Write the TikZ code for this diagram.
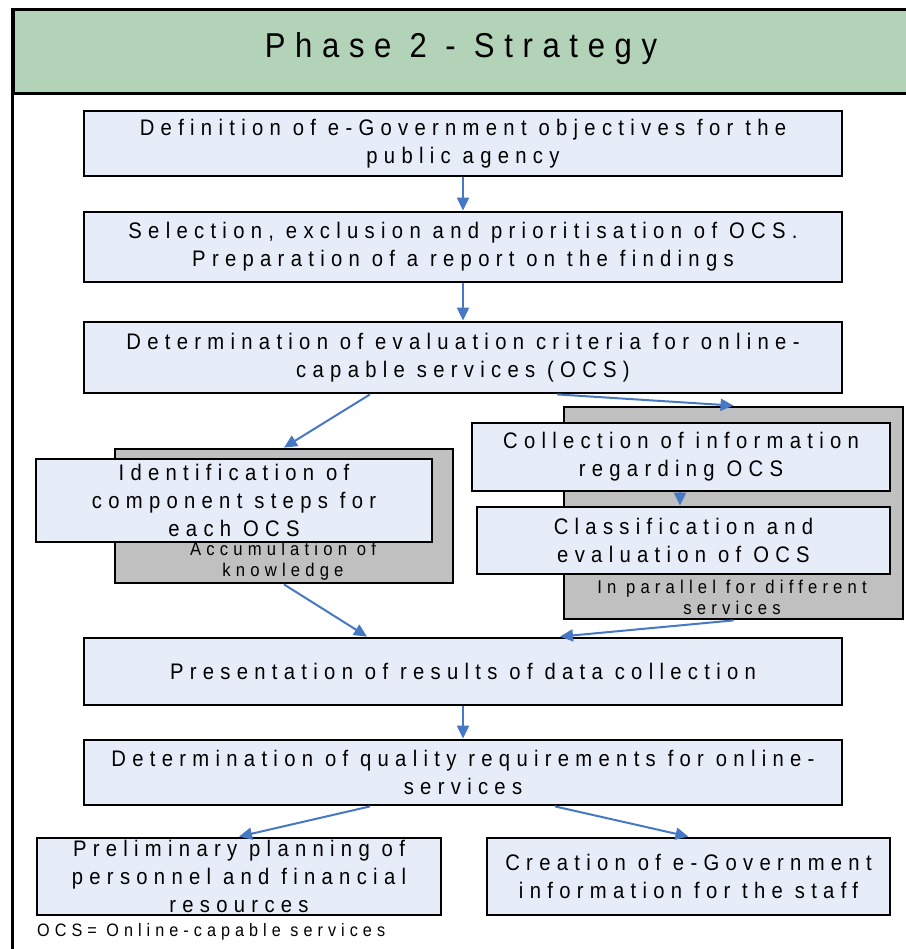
\documentclass[tikz,border=0pt]{standalone}
\usepackage{fontspec}
\setmainfont{Liberation Sans}[FakeStretch=0.9,LetterSpace=28]
\usetikzlibrary{arrows.meta}
\definecolor{hdrgreen}{HTML}{B3D3B8}
\definecolor{boxblue}{HTML}{E7EDF8}
\definecolor{graybox}{HTML}{C0C0C0}
\definecolor{arrblue}{HTML}{4778C4}
\tikzset{
  x=1pt,y=-1pt,
  bluebox/.style={draw=black,line width=2.8pt,fill=boxblue,inner sep=0pt,align=center,
    font=\fontsize{22.5}{28}\selectfont},
  graycont/.style={draw=black,line width=2.8pt,fill=graybox,inner sep=0pt},
  graylabel/.style={inner sep=0pt,align=center,font=\fontsize{18.5}{21.5}\selectfont},
  arr/.style={draw=arrblue,line width=2pt,-{Triangle[length=13pt,width=12pt]}},
}
\begin{document}
\begin{tikzpicture}
\useasboundingbox (0,0) rectangle (905,949);
% frame
\draw[line width=3pt] (12,8) -- (12,960);
\node[draw=black,line width=3pt,fill=hdrgreen,minimum width=900pt,minimum height=84pt,anchor=north west,inner sep=0pt] (hdr) at (12,8) {};
\node[font=\fontsize{34.5}{40}\selectfont] (title) at (461,49) {Phase 2 - Strategy};
% main boxes
\node[bluebox,minimum width=758pt,minimum height=65pt] (b1) at (463,143.5)
  {Definition of e-Government objectives for the\\public agency};
\node[bluebox,minimum width=758pt,minimum height=70pt] (b2) at (463,247)
  {Selection, exclusion and prioritisation of OCS.\\Preparation of a report on the findings};
\node[bluebox,minimum width=758pt,minimum height=71pt] (b3) at (463,357.5)
  {Determination of evaluation criteria for online-\\capable services (OCS)};
% left group
\node[graycont,minimum width=338pt,minimum height=134pt] (g1) at (284,516) {};
\node[graylabel] (g1lab) at (283,561) {Accumulation of\\knowledge};
\node[bluebox,minimum width=396pt,minimum height=83pt] (idf) at (234,500.5)
  {Identification of\\component steps for\\each OCS};
% right group
\node[graycont,minimum width=339pt,minimum height=212pt] (g2) at (733.5,513) {};
\node[graylabel] (g2lab) at (732,597.5) {In parallel for different\\services};
\node[bluebox,minimum width=418pt,minimum height=68pt] (col) at (681,457)
  {Collection of information\\regarding OCS};
\node[bluebox,minimum width=413pt,minimum height=67pt] (cls) at (683.5,540.5)
  {Classification and\\evaluation of OCS};
% lower boxes
\node[bluebox,minimum width=758pt,minimum height=67pt] (pres) at (463,671.5)
  {Presentation of results of data collection};
\node[bluebox,minimum width=758pt,minimum height=65pt] (qual) at (463,772.5)
  {Determination of quality requirements for online-\\services};
\node[bluebox,minimum width=404pt,minimum height=77pt] (pre) at (239,876.5)
  {Preliminary planning of\\personnel and financial\\resources};
\node[bluebox,minimum width=403pt,minimum height=77pt] (cre) at (688.5,876.5)
  {Creation of e-Government\\information for the staff};
\node[anchor=west,inner sep=0pt,font=\fontsize{18}{20}\selectfont] (note) at (37,932)
  {OCS= Online-capable services};
% arrows
\draw[arr] (b1.south) -- (b2.north);
\draw[arr] (b2.south) -- (b3.north);
\draw[arr] ([xshift=-93pt]b3.south) -- (g1.north);
\draw[arr] ([xshift=94pt]b3.south) -- (g2.north);
\draw[arr] ([xshift=-1pt]col.south) -- ([xshift=-1pt]col.south |- cls.north);
\draw[arr] (g1.south) -- ([xshift=-96pt]pres.north);
\draw[arr] (g2.south) -- ([xshift=97pt]pres.north);
\draw[arr] (pres.south) -- (qual.north);
\draw[arr] ([xshift=-93pt]qual.south) -- (pre.north);
\draw[arr] ([xshift=92pt]qual.south) -- (cre.north);
\end{tikzpicture}
\end{document}
